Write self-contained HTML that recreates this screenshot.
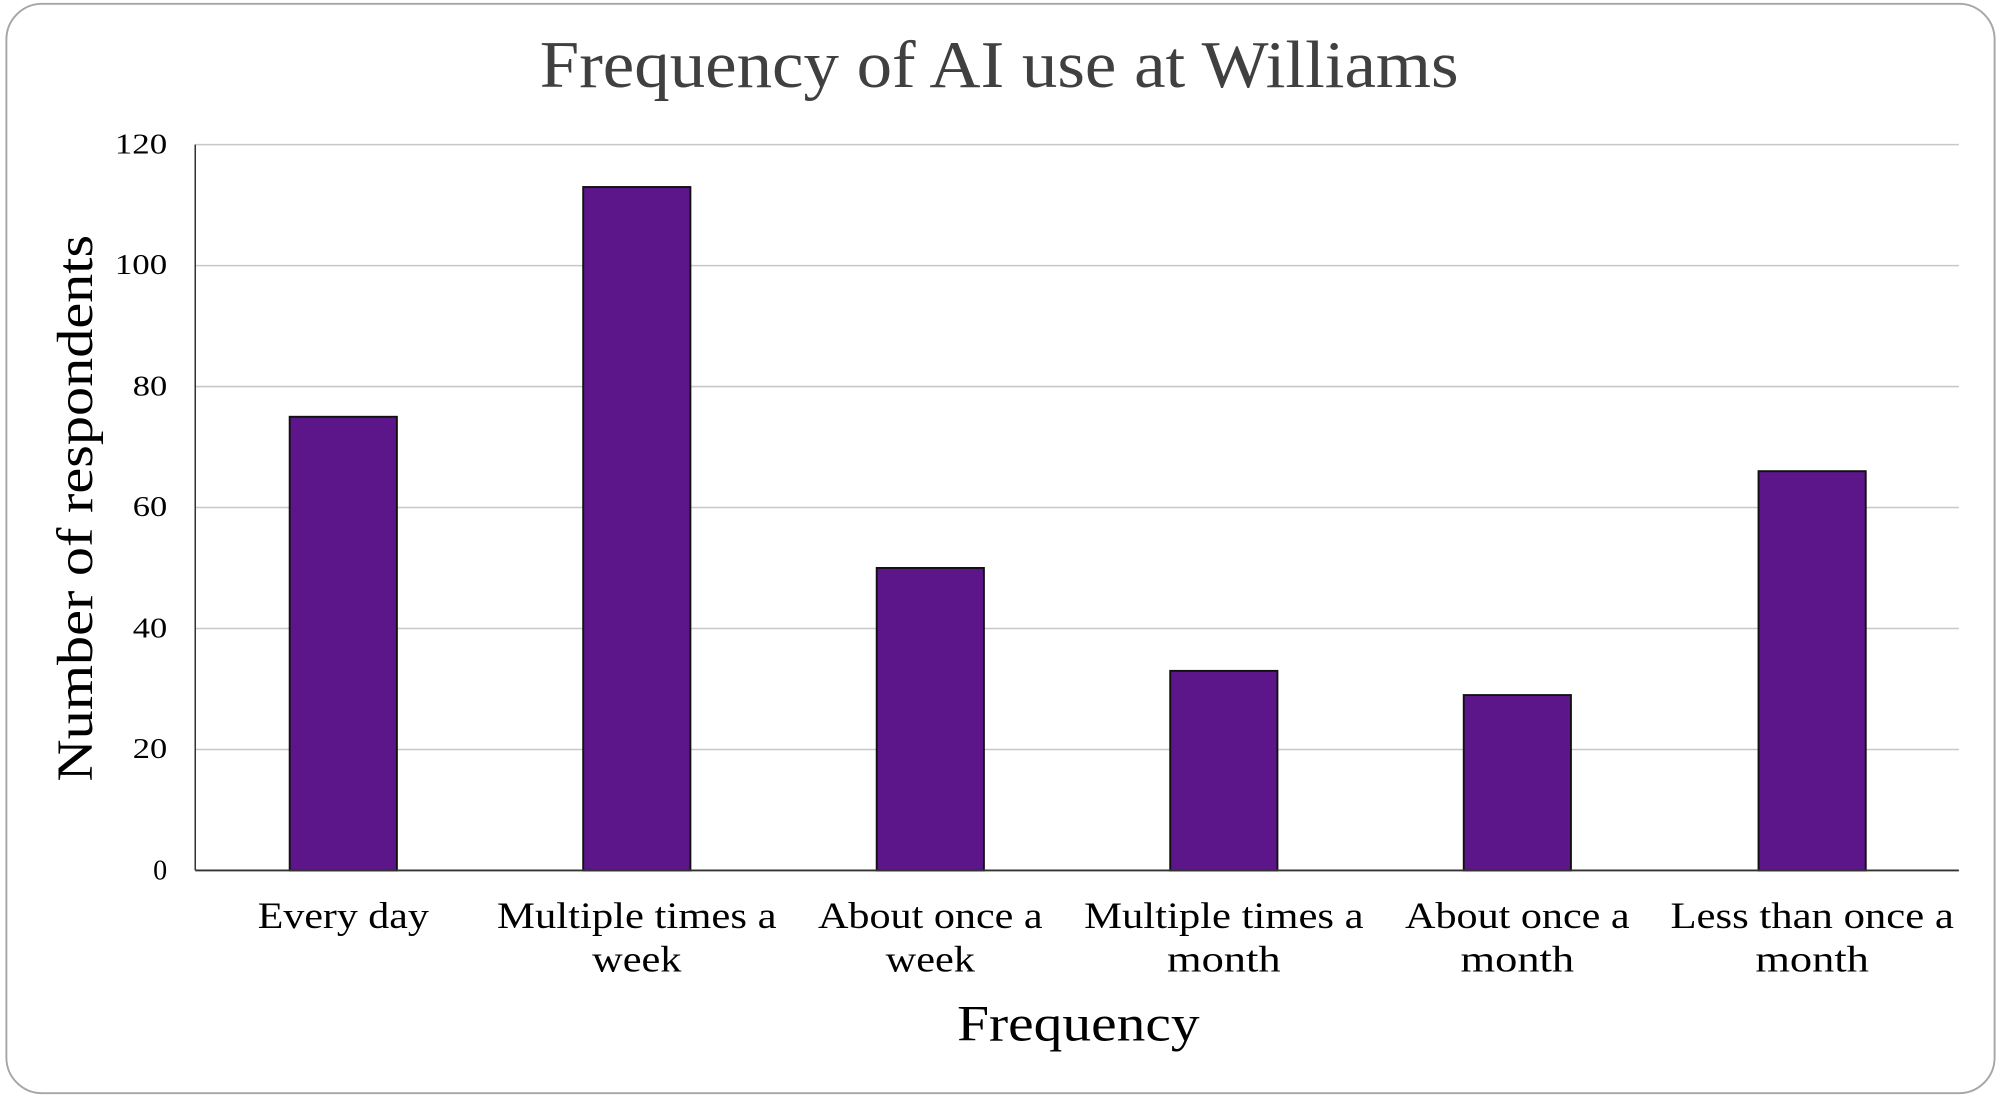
<!DOCTYPE html>
<html><head><style>html,body{margin:0;padding:0;background:#fff;}svg{display:block}</style></head>
<body>
<svg width="2001" height="1097" viewBox="0 0 1568 857" preserveAspectRatio="none" xmlns="http://www.w3.org/2000/svg" font-family="'Liberation Serif', serif">
<rect x="5" y="3" width="1558" height="851" rx="28" fill="#fff" stroke="#a6a6a6" stroke-width="1.5"/>
<text x="783" y="68" font-size="52" fill="#404040" text-anchor="middle" textLength="720" lengthAdjust="spacingAndGlyphs">Frequency of AI use at Williams</text>
<g stroke="#c8c8c8" stroke-width="1.2">
<line x1="153" x2="1535" y1="113" y2="113"/>
<line x1="153" x2="1535" y1="207.5" y2="207.5"/>
<line x1="153" x2="1535" y1="302" y2="302"/>
<line x1="153" x2="1535" y1="396.5" y2="396.5"/>
<line x1="153" x2="1535" y1="491" y2="491"/>
<line x1="153" x2="1535" y1="585.5" y2="585.5"/>
</g>
<g fill="#5c168a" stroke="#111" stroke-width="1.5">
<rect x="227" y="325.6" width="84" height="354.4"/>
<rect x="457" y="146.1" width="84" height="533.9"/>
<rect x="687" y="443.7" width="84" height="236.3"/>
<rect x="917" y="524.1" width="84" height="155.9"/>
<rect x="1147" y="543" width="84" height="137"/>
<rect x="1378" y="368.1" width="84" height="311.9"/>
</g>
<line x1="153" x2="153" y1="113" y2="680" stroke="#333" stroke-width="1.2"/>
<line x1="153" x2="1535" y1="680" y2="680" stroke="#333" stroke-width="1.5"/>
<g font-size="22" fill="#000" text-anchor="end">
<text x="131" y="120" textLength="41" lengthAdjust="spacingAndGlyphs">120</text>
<text x="131" y="214" textLength="41" lengthAdjust="spacingAndGlyphs">100</text>
<text x="131" y="309" textLength="27" lengthAdjust="spacingAndGlyphs">80</text>
<text x="131" y="403" textLength="27" lengthAdjust="spacingAndGlyphs">60</text>
<text x="131" y="498" textLength="27" lengthAdjust="spacingAndGlyphs">40</text>
<text x="131" y="592" textLength="27" lengthAdjust="spacingAndGlyphs">20</text>
<text x="131" y="687">0</text>
</g>
<g font-size="29" fill="#000" text-anchor="middle" lengthAdjust="spacingAndGlyphs">
<text x="269" y="725" textLength="134" lengthAdjust="spacingAndGlyphs">Every day</text>
<text x="499" y="725" textLength="219" lengthAdjust="spacingAndGlyphs">Multiple times a</text><text x="499" y="759" textLength="70" lengthAdjust="spacingAndGlyphs">week</text>
<text x="729" y="725" textLength="176" lengthAdjust="spacingAndGlyphs">About once a</text><text x="729" y="759" textLength="70" lengthAdjust="spacingAndGlyphs">week</text>
<text x="959" y="725" textLength="219" lengthAdjust="spacingAndGlyphs">Multiple times a</text><text x="959" y="759" textLength="89" lengthAdjust="spacingAndGlyphs">month</text>
<text x="1189" y="725" textLength="176" lengthAdjust="spacingAndGlyphs">About once a</text><text x="1189" y="759" textLength="89" lengthAdjust="spacingAndGlyphs">month</text>
<text x="1420" y="725" textLength="222" lengthAdjust="spacingAndGlyphs">Less than once a</text><text x="1420" y="759" textLength="89" lengthAdjust="spacingAndGlyphs">month</text>
</g>
<text x="845" y="813" font-size="40" text-anchor="middle" fill="#000" textLength="190" lengthAdjust="spacingAndGlyphs">Frequency</text>
<text transform="translate(72,397) rotate(-90)" font-size="40" text-anchor="middle" fill="#000" textLength="427" lengthAdjust="spacingAndGlyphs">Number of respondents</text>
</svg>
</body></html>
